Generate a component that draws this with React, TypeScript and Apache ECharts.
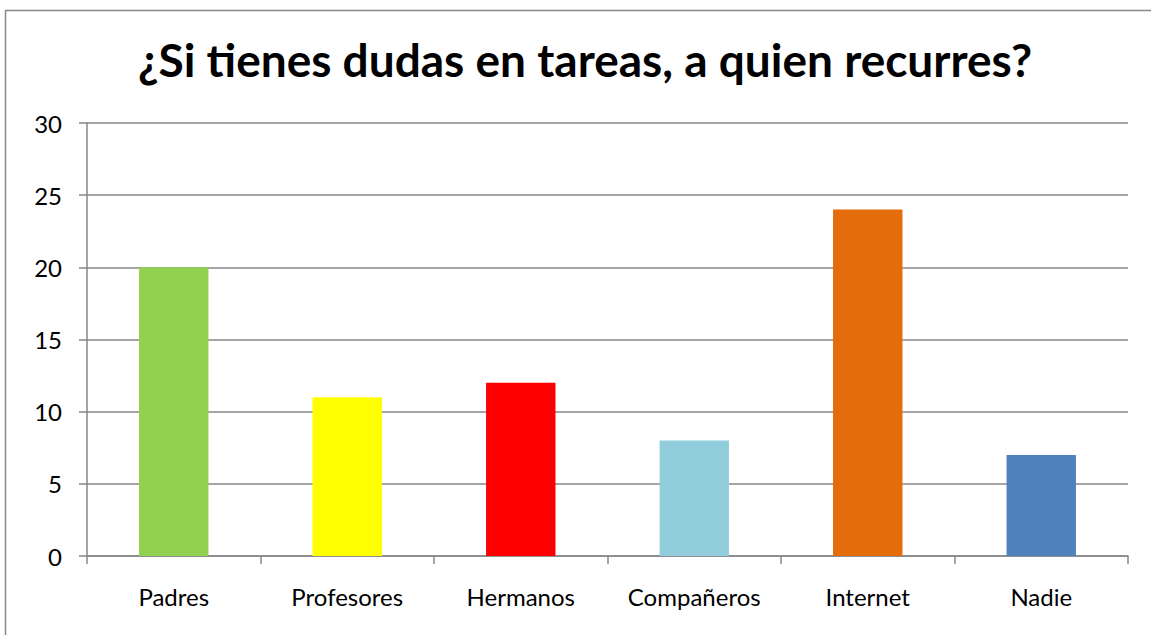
import React, { useEffect, useRef } from "react";
import * as echarts from "echarts";

const titleText = "¿Si tienes dudas en tareas, a quien recurres?";
const categories = ["Padres", "Profesores", "Hermanos", "Compañeros", "Internet", "Nadie"];
const values = [20, 11, 12, 8, 24, 7];
const barColors = ["#92D050", "#FFFF00", "#FF0000", "#92CDDC", "#E46C0A", "#4F81BD"];

const FONT = "Lato, 'Noto Sans', sans-serif";
const GRID_COLOR = "#878787";

export default function App() {
  const ref = useRef<HTMLDivElement>(null);
  useEffect(() => {
    if (!ref.current) return;
    const chart = echarts.init(ref.current, undefined, { renderer: "svg" });
    chart.setOption({
      animation: false,
      backgroundColor: "#ffffff",
      title: {
        text: titleText,
        left: 580,
        top: 31,
        textAlign: "center",
        textStyle: { fontFamily: FONT, fontWeight: "bold", fontSize: 46, color: "#000" },
      },
      graphic: [
        { type: "line", shape: { x1: 5.5, y1: 10.5, x2: 5.5, y2: 640 }, style: { stroke: GRID_COLOR, lineWidth: 1.5 } },
        { type: "line", shape: { x1: 5, y1: 10.5, x2: 1160, y2: 10.5 }, style: { stroke: GRID_COLOR, lineWidth: 1.5 } },
      ],
      grid: { left: 87, right: 23, top: 123, bottom: 79, containLabel: false },
      xAxis: {
        type: "category",
        data: categories,
        axisLine: { show: true, lineStyle: { color: GRID_COLOR, width: 1.5 } },
        axisTick: { show: true, length: 8, lineStyle: { color: GRID_COLOR, width: 1.5 } },
        axisLabel: { fontFamily: FONT, fontSize: 24, color: "#000", margin: 28 },
      },
      yAxis: {
        type: "value",
        min: 0,
        max: 30,
        interval: 5,
        axisLine: { show: true, lineStyle: { color: GRID_COLOR, width: 1.5 } },
        axisTick: { show: true, length: 8, lineStyle: { color: GRID_COLOR, width: 1.5 } },
        splitLine: { show: true, lineStyle: { color: GRID_COLOR, width: 1.5 } },
        axisLabel: { fontFamily: FONT, fontSize: 24, color: "#000", margin: 25 },
      },
      series: [
        {
          type: "bar",
          data: values.map((v, i) => ({ value: v, itemStyle: { color: barColors[i] } })),
          barWidth: "40%",
        },
      ],
    });
    return () => chart.dispose();
  }, []);
  return (
    <div
      ref={ref}
      style={{ position: "fixed", left: 0, top: 0, width: 1151, height: 635, background: "#fff" }}
    />
  );
}
